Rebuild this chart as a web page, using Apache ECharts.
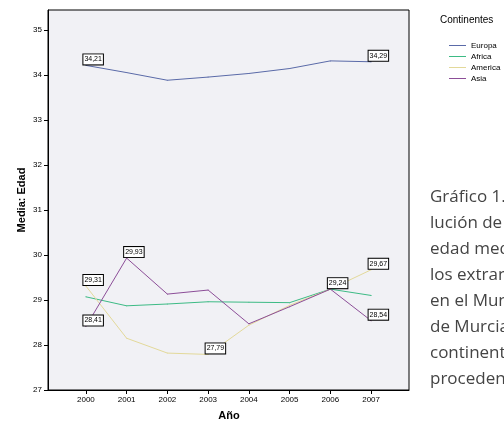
<!DOCTYPE html>
<html><head><meta charset="utf-8">
<script src="https://cdn.jsdelivr.net/npm/echarts@6/dist/echarts.min.js"></script>
<style>html,body{margin:0;padding:0;background:#fff}#c{width:504px;height:425px}</style>
</head><body><div id="c"></div>
<script>
var years = [2000, 2001, 2002, 2003, 2004, 2005, 2006, 2007];
var yTicks = [27, 28, 29, 30, 31, 32, 33, 34, 35];
var europa  = [34.21, 34.05, 33.88, 33.95, 34.03, 34.14, 34.31, 34.29];
var africa  = [29.07, 28.87, 28.91, 28.96, 28.95, 28.94, 29.24, 29.10];
var america = [29.31, 28.15, 27.82, 27.79, 28.44, 28.88, 29.24, 29.67];
var asia    = [28.41, 29.93, 29.13, 29.22, 28.47, 28.85, 29.24, 28.54];
var europaLabels = [0, 7];
var africaLabels = [];
var americaLabels = [0, 3, 7];
var asiaLabels = [0, 1, 6, 7];
var textLines = ['Gráfico 1. Evo-', 'lución de la', 'edad media de', 'los extranjeros', 'en el Municipio', 'de Murcia por', 'continente de', 'procedencia'];

function build(vals, labelIdx) {
  return vals.map(function (v, i) {
    var d = { value: [years[i], v] };
    if (labelIdx.indexOf(i) >= 0) d.label = { show: true };
    return d;
  });
}
var labelStyle = {
  show: false, position: 'right', distance: 0, offset: [-3, -6],
  align: 'left', verticalAlign: 'middle', opacity: 1,
  fontSize: 7, lineHeight: 9, fontFamily: 'Arial, Liberation Sans', color: '#000',
  backgroundColor: '#fff', borderColor: '#000', borderWidth: 1, padding: [1, 1, 0, 1],
  formatter: function (p) { return p.value[1].toFixed(2).replace('.', ','); }
};
function ser(name, vals, color, idx) {
  return {
    name: name, type: 'line', data: build(vals, idx),
    symbol: 'circle', symbolSize: 1, showSymbol: true,
    itemStyle: { color: color },
    lineStyle: { color: color, width: 1 },
    label: labelStyle, emphasis: { disabled: true }, animation: false
  };
}
var chart = echarts.init(document.getElementById('c'), null, { renderer: 'canvas' });
var graphics = [
  { type: 'text', left: 440, top: 15, style: { text: 'Continentes', fontSize: 10, fontFamily: 'Arial, Liberation Sans', fill: '#000' } },
  { type: 'text', x: 22, y: 200, rotation: Math.PI / 2, style: { text: 'Media: Edad', fontSize: 11, fontWeight: 'bold', fontFamily: 'Arial, Liberation Sans', fill: '#000', align: 'center', verticalAlign: 'middle' } },
  { type: 'text', x: 229, y: 416, style: { text: 'Año', fontSize: 11, fontWeight: 'bold', fontFamily: 'Arial, Liberation Sans', fill: '#000', align: 'center', verticalAlign: 'middle' } }
];
textLines.forEach(function (t, i) {
  graphics.push({ type: 'text', x: 430, y: 197 + i * 26, style: { text: t, fontSize: 17, fontFamily: 'Open Sans', fill: '#444', align: 'left', verticalAlign: 'middle' } });
});
chart.setOption({
  animation: false,
  backgroundColor: '#fff',
  grid: { left: 48, right: 95, top: 10, bottom: 35, show: true, backgroundColor: '#f1f1f5', borderColor: '#000', borderWidth: 1 },
  legend: {
    orient: 'vertical', left: 444, top: 36, itemWidth: 17, itemHeight: 1, itemGap: 2, icon: 'rect',
    textStyle: { fontSize: 8, lineHeight: 9, fontFamily: 'Arial, Liberation Sans', color: '#000' },
    data: ['Europa', 'Africa', 'America', 'Asia']
  },
  xAxis: {
    type: 'value', min: 1999.07, max: 2007.93,
    axisLine: { lineStyle: { color: '#000' } },
    axisTick: { show: true, length: 4, customValues: years, lineStyle: { color: '#000' } },
    axisLabel: { customValues: years, fontSize: 8, color: '#000', fontFamily: 'Arial, Liberation Sans', margin: 6, formatter: function (v) { return String(v); } },
    splitLine: { show: false }
  },
  yAxis: {
    type: 'value', min: 27, max: 35.44,
    axisLine: { show: true, lineStyle: { color: '#000' } },
    axisTick: { show: true, length: 4, customValues: yTicks, lineStyle: { color: '#000' } },
    axisLabel: { customValues: yTicks, fontSize: 8, color: '#000', fontFamily: 'Arial, Liberation Sans', margin: 6 },
    splitLine: { show: false }
  },
  graphic: graphics,
  series: [
    ser('Europa', europa, '#5a6aa8', europaLabels),
    ser('Africa', africa, '#3dbb85', africaLabels),
    ser('America', america, '#e3d99a', americaLabels),
    ser('Asia', asia, '#8c4e98', asiaLabels)
  ]
});
</script></body></html>
